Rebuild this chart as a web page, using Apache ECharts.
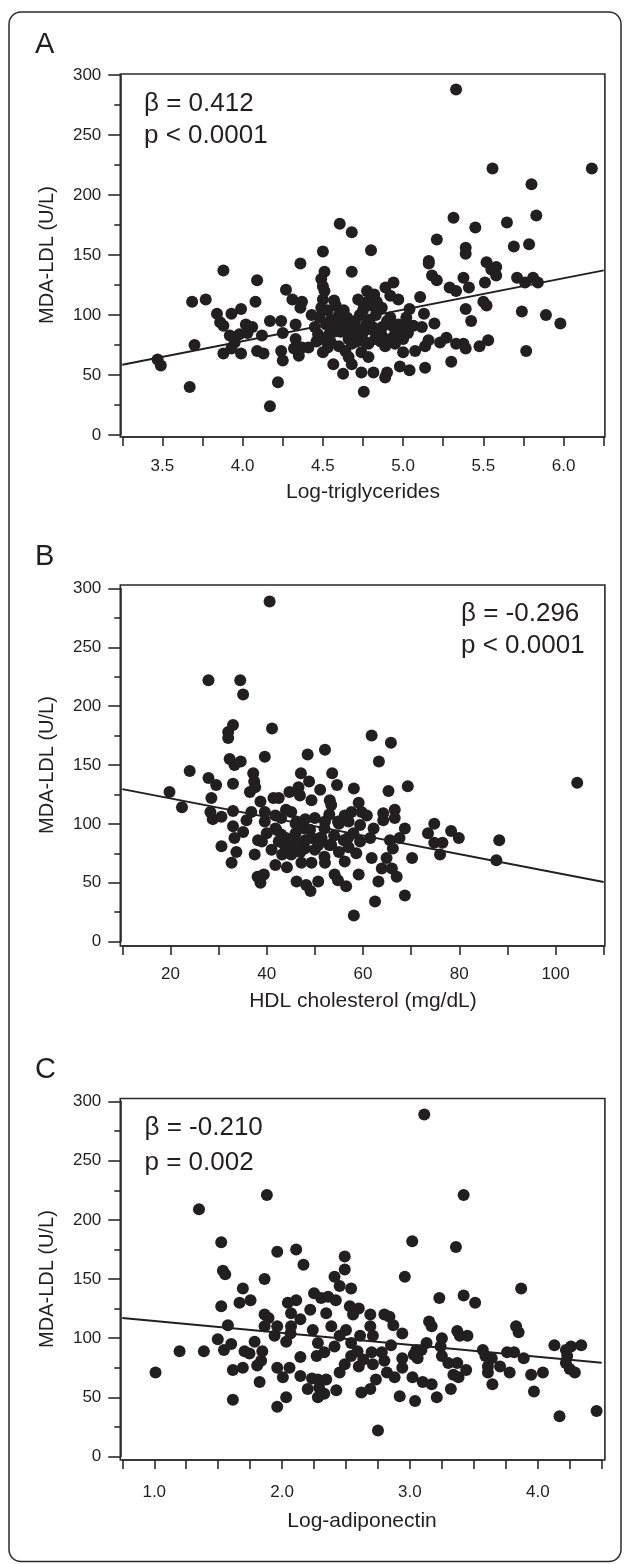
<!DOCTYPE html>
<html><head><meta charset="utf-8">
<script src="https://cdn.jsdelivr.net/npm/echarts@6/dist/echarts.min.js"></script>
<style>html,body{margin:0;padding:0;background:#fff}#c{width:629px;height:1564px}</style>
</head><body><div id="c"></div>
<script>
// ---------- DATA ----------
const panelLetters = ['A', 'B', 'C'];
const xTitles = ['Log-triglycerides', 'HDL cholesterol (mg/dL)', 'Log-adiponectin'];
const yTitle = 'MDA-LDL (U/L)';
const betaTexts = ['\u03b2 = 0.412', '\u03b2 = -0.296', '\u03b2 = -0.210'];
const pTexts = ['p < 0.0001', 'p < 0.0001', 'p = 0.002'];
const yTickLabels = [0, 50, 100, 150, 200, 250, 300];
const xTickLabelsA = [3.5, 4.0, 4.5, 5.0, 5.5, 6.0];
const xTickLabelsB = [20, 40, 60, 80, 100];
const xTickLabelsC = [1.0, 2.0, 3.0, 4.0];

const pointsA = [
[3.47,63],[3.49,58],[3.67,40],[3.70,75],[3.685,111],[3.77,113],[3.88,137],
[3.84,101],[3.86,94],[3.88,91],[3.88,68],[3.93,101],[3.92,83],[3.95,77],[3.93,72],[3.99,68],[3.99,105],
[4.02,92],[4.06,90],[3.98,84],[4.03,85],[4.09,129],[4.08,111],[4.12,83],[4.09,70],[4.13,68],
[4.17,95],[4.22,44],[4.17,24],[4.24,95],[4.25,85],[4.24,70],[4.25,62],[4.27,121],
[4.31,113],[4.37,111],[4.36,106],[4.33,92],[4.33,80],[4.32,72],[4.37,73],[4.35,66],[4.41,73],[4.36,143],
[4.50,153],[4.605,176],[4.68,169],[4.68,136],[4.51,136],[4.49,130],[4.50,124],[4.51,120],
[4.50,113],[4.49,106],[4.48,98],[4.52,92],[4.55,90],[4.54,84],[4.50,80],[4.57,86],[4.50,69],
[4.58,108],[4.60,100],[4.62,94],[4.63,87],[4.66,80],[4.68,76],[4.64,70],
[4.565,59],[4.626,51],[4.755,36],[4.74,52],[4.68,59],[4.66,65],
[4.70,95],[4.72,88],[4.73,82],[4.75,104],[4.72,113],[4.75,110],[4.76,78],[4.74,69],
[4.80,154],[4.775,120],[4.79,113],[4.836,111],[4.867,106],[4.82,117],[4.80,108],
[4.92,116],[4.97,113],[4.89,123],[4.94,127],
[4.754,86],[4.815,87],[4.825,80],[4.888,74],[4.867,83],[4.784,76],[4.784,65],
[4.815,52],[4.888,48],[4.90,52],
[4.92,98],[4.93,91],[4.90,95],[4.87,90],[4.95,84],
[5.04,105],[5.02,98],[4.99,86],[5.00,80],[5.00,69],[4.98,57],[5.04,54],
[5.064,91],[5.117,90],[5.13,101],[5.106,115],[5.195,93],
[5.137,74],[5.158,79],[5.075,70],[5.137,56],
[5.16,145],[5.16,143],[5.18,133],[5.21,129],[5.21,163],
[5.23,77],[5.27,81],[5.30,61],[5.29,123],[5.33,120],
[5.314,181],[5.33,288],[5.33,76],[5.376,76],[5.39,72],[5.39,156],[5.39,151],[5.376,131],[5.41,123],[5.39,105],[5.424,95],
[5.45,173],[5.476,74],[5.53,79],[5.50,111],[5.52,108],
[5.52,144],[5.55,138],[5.58,140],[5.58,133],[5.51,127],
[5.557,222],[5.647,177],[5.69,157],[5.785,159],[5.80,209],[5.83,183],[6.176,222],
[5.71,131],[5.76,127],[5.81,131],[5.84,127],[5.74,103],[5.89,100],[5.98,93],[5.767,70],
[4.45,90],[4.47,84],[4.43,100],[4.46,78],[4.53,104],[4.55,96],[4.57,112],[4.59,92],[4.61,86],[4.63,104],
[4.65,98],[4.67,91],[4.69,84],[4.71,78],[4.73,100],[4.77,92],[4.79,96],[4.81,90],[4.85,84],[4.83,100],
[4.86,78],[4.92,80],[4.95,76],[4.97,92],[5.01,92],[5.03,85],[4.53,73],[4.55,77],[4.60,74]
];

const pointsB = [
[40.6,289],[27.9,222],[34.5,222],[35.1,210],[33.0,184],[32.0,178],[32.0,173],[41.1,181],
[24.0,145],[19.8,127],[22.4,114],
[27.9,139],[29.5,133],[28.5,122],[28.3,110],[28.8,104],[30.6,106],
[32.3,155],[33.3,150],[34.6,153],[39.6,157],[33.0,134],
[37.2,143],[37.4,136],[36.5,127],[37.6,131],
[33.0,111],[33.0,98],[33.3,88],[35.1,93],[33.7,76],[32.7,67],[30.6,81],
[35.8,103],[36.8,110],[38.7,119],
[38.2,86],[37.5,74],[38.1,55],[39.4,57],[38.7,50],
[39.6,110],[39.6,102],[41.4,122],[42.5,122],[41.8,107],[41.8,96],[42.5,85],[41.8,65],[44.2,63],[43.2,74],
[44.7,127],[46.6,131],[47.1,143],[48.8,136],[46.9,124],[49.3,120],[51.1,129],[53.6,143],[54.6,133],[52.1,163],[48.5,159],[53.1,120],[53.4,116],
[45.1,110],[46.2,102],[47.9,96],[49.3,88],[50.7,82],[47.9,79],[46.2,85],[43.7,82],[43.0,91],[45.1,74],
[47.2,67],[49.3,67],[52.1,67],[51.4,88],[53.4,82],[52.1,102],[54.8,102],[56.2,107],[57.6,110],[56.9,88],
[56.2,68],[54.1,57],[54.8,52],[56.5,47],[50.7,51],[46.2,51],[48.2,48],[49.1,43],[58.1,22],[58.6,75],
[59.1,57],[58.1,130],[59.1,118],[59.7,110],
[61.8,175],[65.8,169],[63.3,153],[69.3,132],[65.3,128],[104.5,135],
[60.8,107],[59.4,99],[62.2,96],[61.5,88],[59.4,85],
[64.2,109],[64.2,103],[66.6,112],[66.6,105],[68.7,96],[65.6,86],[66.2,79],[67.6,88],
[61.8,71],[64.9,71],[63.9,62],[66.0,62],[67.0,55],[63.2,51],[62.5,34],[68.7,39],[70.2,71],
[74.8,100],[73.5,92],[74.8,84],[76.5,84],[76.0,74],[78.3,94],[79.9,88],
[88.3,86],[87.7,69],
[42,95],[44,88],[45,80],[46,92],[47,76],[48,86],[49,95],[50,78],[51,88],[52,72],
[52,96],[53,82],[54,90],[55,76],[55,100],[56,86],[57,80],[57,102],[58,92],[43,105],
[44,112],[40,92],[39,85],[41,78],[46,100],[48,104],[50,105],[53,108]
];

const pointsC = [
[1.01,71],[1.198,89],[1.388,89],[1.35,209],[1.881,221],[1.524,181],[1.537,157],[1.555,154],[1.863,150],[1.693,142],
[1.667,130],[1.753,132],[1.524,127],[1.576,111],[1.497,99],[1.545,90],[1.602,95],[1.706,89],[1.745,87],[1.785,97],
[1.615,73],[1.693,75],[1.615,48],[1.824,63],[1.805,77],[1.836,81],[1.845,89],[1.863,120],[1.894,117],[1.863,110],
[1.962,173],[1.962,110],[1.941,102],[1.962,75],[2.006,67],[2.058,75],[2.032,50],[1.962,42],[2.11,175],[2.167,162],
[2.045,130],[2.11,132],[2.07,121],[2.143,116],[2.07,110],[2.066,104],[2.032,97],[2.143,84],[2.143,68],[2.2,57],
[2.234,66],[2.22,124],[2.24,107],[2.25,138],[2.305,134],[2.345,121],[2.28,96],[2.27,85],[2.33,88],[2.41,93],
[2.45,102],[2.50,107],[2.385,110],[2.36,135],[2.42,132],[2.28,65],[2.345,65],[2.29,58],[2.33,53],[2.28,50],
[2.424,56],[2.45,144],[2.41,152],[2.49,158],[2.49,169],[2.54,142],[2.45,71],[2.49,78],[2.54,85],[2.54,96],
[2.59,89],[2.60,76],[2.53,127],[2.555,120],[2.60,125],[2.62,54],
[3.112,289],[3.42,221],[3.018,182],[3.36,177],[2.96,152],[3.87,142],[3.23,134],[3.42,136],[3.51,130],
[2.69,120],[2.69,110],[2.80,120],[2.84,118],[2.87,111],[2.61,102],[2.71,102],[2.94,104],[3.15,114],
[3.17,110],[3.37,106],[3.39,102],[3.45,102],[3.25,100],[3.13,96],[3.05,90],[3.03,86],[3.09,90],[2.852,94],
[2.635,82],[2.70,88],[2.71,78],[2.80,81],[2.78,88],[2.94,83],[2.94,75],[3.06,83],[3.24,93],[3.25,85],
[3.30,79],[3.37,79],[2.82,71],[2.88,67],[3.02,67],[3.10,63],[3.17,61],[3.21,50],[3.32,57],[2.92,51],
[3.04,47],[3.34,69],[3.38,67],[3.44,73],[2.734,65],[2.69,57],[2.75,22],[3.57,90],[3.59,85],[3.64,83],
[3.61,76],[3.61,71],[3.705,76],[3.78,71],[3.76,88],[3.815,88],[3.89,83],[3.645,61],[3.83,110],[3.85,105],
[3.948,69],[4.04,71],[3.97,55],[4.13,94],[4.22,90],[4.26,93],[4.34,94],[4.23,85],[4.22,79],[4.25,74],
[4.29,71],[4.17,34],[4.46,38.5]
];

const fitA = [[3.25, 58.5], [6.25, 137.2]];
const fitB = [[10, 129.5], [110, 50.5]];
const fitC = [[0.75, 117], [4.5, 79.3]];

// ---------- CHART ----------
const FONT = "'Liberation Sans', Arial, Helvetica, sans-serif";
const INK = '#231f20';
const AX = '#2a2a2a';

const layout = [
  {grid: {left: 122.3, width: 481.4, top: 75, height: 360}, xMin: 3.25, xMax: 6.25, xInt: 0.25, xOff: 2,
   labels: xTickLabelsA, fmt: v => v.toFixed(1), lblMargin: 21, nameGap: 45,
   frame: [120.3, 74, 484.6, 363], letterY: 45, textX: 144, textY: [104, 136]},
  {grid: {left: 122.3, width: 481.4, top: 588.5, height: 353}, xMin: 10, xMax: 110, xInt: 10, xOff: 4.5,
   labels: xTickLabelsB, fmt: v => String(v), lblMargin: 20, nameGap: 45,
   frame: [120.3, 585, 484.6, 361], letterY: 557, textX: 461, textY: [614, 646]},
  {grid: {left: 122.3, width: 479.4, top: 1101.5, height: 355}, xMin: 0.75, xMax: 4.5, xInt: 0.25, xOff: 3.5,
   labels: xTickLabelsC, fmt: v => v.toFixed(1), lblMargin: 24, nameGap: 51,
   frame: [120.3, 1098.5, 484.6, 361.5], letterY: 1070, textX: 144.5, textY: [1128, 1163]}
];
const pointSets = [pointsA, pointsB, pointsC];
const fits = [fitA, fitB, fitC];

const grids = [], xAxes = [], yAxes = [], series = [], graphics = [];
layout.forEach((L, i) => {
  grids.push(Object.assign({containLabel: false}, L.grid));
  xAxes.push({
    type: 'value', gridIndex: i, min: L.xMin, max: L.xMax, interval: L.xInt, offset: L.xOff,
    axisLine: {show: true, onZero: false, lineStyle: {color: AX, width: 1.6}},
    axisTick: {show: true, length: 9, lineStyle: {color: AX, width: 1.6}},
    splitLine: {show: false},
    axisLabel: {
      margin: L.lblMargin, color: INK, fontSize: 17, fontFamily: FONT,
      formatter: v => (L.labels.some(t => Math.abs(t - v) < 1e-6) ? L.fmt(v) : '')
    },
    name: xTitles[i], nameLocation: 'middle', nameGap: L.nameGap,
    nameTextStyle: {color: INK, fontSize: 21, fontFamily: FONT}
  });
  yAxes.push({
    type: 'value', gridIndex: i, min: 0, max: 300, interval: 50, offset: 2,
    axisLine: {show: true, lineStyle: {color: AX, width: 1.6}},
    axisTick: {show: true, length: 12, lineStyle: {color: AX, width: 1.6}},
    minorTick: {show: true, splitNumber: 2, length: 6, lineStyle: {color: AX, width: 1.6}},
    splitLine: {show: false}, minorSplitLine: {show: false},
    axisLabel: {margin: 19, color: INK, fontSize: 17, fontFamily: FONT,
      formatter: v => (yTickLabels.indexOf(v) >= 0 ? String(v) : '')},
    name: yTitle, nameLocation: 'middle', nameGap: 63, nameRotate: 90,
    nameTextStyle: {color: INK, fontSize: 20, fontFamily: FONT}
  });
  series.push({
    type: 'line', xAxisIndex: i, yAxisIndex: i, data: fits[i], symbol: 'none',
    lineStyle: {color: INK, width: 2}, z: 2, silent: true
  });
  series.push({
    type: 'scatter', xAxisIndex: i, yAxisIndex: i, data: pointSets[i], symbol: 'circle', symbolSize: 12,
    itemStyle: {color: INK, opacity: 1}, z: 3, silent: true
  });
  const f = L.frame;
  graphics.push({type: 'rect', shape: {x: f[0], y: f[1], width: f[2], height: f[3]},
    style: {fill: 'none', stroke: AX, lineWidth: 1.6}, z: 10, silent: true});
  graphics.push({type: 'text', x: 35, y: L.letterY,
    style: {text: panelLetters[i], font: '29px ' + FONT, fill: INK, textAlign: 'left', textVerticalAlign: 'middle', align: 'left', verticalAlign: 'middle'}, z: 10});
  graphics.push({type: 'text', x: L.textX, y: L.textY[0],
    style: {text: betaTexts[i], font: '26px ' + FONT, fill: INK, textAlign: 'left', textVerticalAlign: 'middle', align: 'left', verticalAlign: 'middle'}, z: 10});
  graphics.push({type: 'text', x: L.textX, y: L.textY[1],
    style: {text: pTexts[i], font: '26px ' + FONT, fill: INK, textAlign: 'left', textVerticalAlign: 'middle', align: 'left', verticalAlign: 'middle'}, z: 10});
});
graphics.push({type: 'rect', shape: {x: 9, y: 12, width: 612, height: 1549.5, r: 12},
  style: {fill: 'none', stroke: AX, lineWidth: 1.5}, z: 10, silent: true});

const chart = echarts.init(document.getElementById('c'), null, {renderer: 'canvas'});
chart.setOption({
  animation: false,
  backgroundColor: '#ffffff',
  grid: grids, xAxis: xAxes, yAxis: yAxes, series: series,
  graphic: {elements: graphics}
});
</script>
</body></html>
